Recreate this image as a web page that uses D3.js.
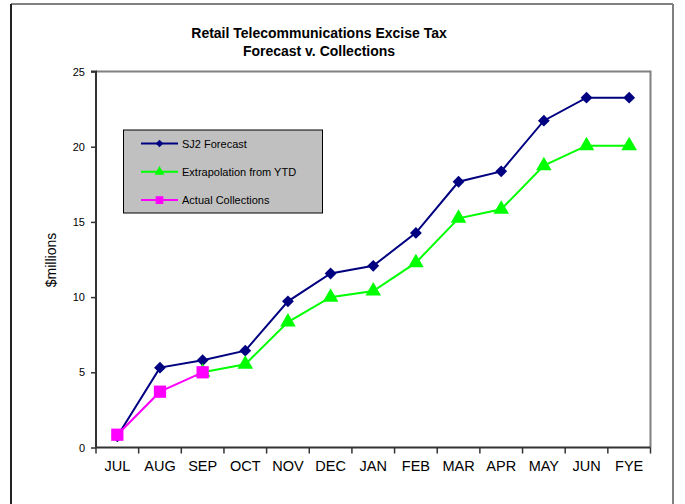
<!DOCTYPE html>
<html><head><meta charset="utf-8">
<script src="https://cdn.jsdelivr.net/npm/d3@7"></script>
<style>body{margin:0;background:#fff}svg{display:block;font-family:Arial,"Liberation Sans",sans-serif}</style>
</head><body><svg id="c" width="685" height="504"></svg>
<script>
const categories = ["JUL","AUG","SEP","OCT","NOV","DEC","JAN","FEB","MAR","APR","MAY","JUN","FYE"];
const forecast = [0.75,5.31,5.8,6.44,9.72,11.57,12.08,14.27,17.67,18.36,21.73,23.26,23.26];
const extrapolation = [null,null,5.0,5.53,8.34,9.99,10.4,12.29,15.24,15.84,18.74,20.07,20.07];
const actual = [0.85,3.71,5.0,null,null,null,null,null,null,null,null,null,null];
const yTicks = [0,5,10,15,20,25];
const titleLines = ["Retail Telecommunications Excise Tax","Forecast v. Collections"];
const legendNames = ["SJ2 Forecast","Extrapolation from YTD","Actual Collections"];

const svg = d3.select("#c");
// outer frame
svg.append("line").attr("x1",11).attr("y1",4).attr("x2",673).attr("y2",4).attr("stroke","#808080").attr("stroke-width",2);
svg.append("line").attr("x1",11).attr("y1",4).attr("x2",11).attr("y2",504).attr("stroke","#222").attr("stroke-width",2);
svg.append("line").attr("x1",673).attr("y1",4).attr("x2",673).attr("y2",504).attr("stroke","#808080").attr("stroke-width",2);

const L=96, R=650.5, T=71.5, B=447.5;
const x = d3.scaleBand().domain(categories).range([L,R]);
const y = d3.scaleLinear().domain([0,25]).range([B,T]);

// plot frame (top/right gray)
svg.append("path").attr("d",`M${L},${T}H${R}V${B}`).attr("fill","none").attr("stroke","#808080").attr("stroke-width",2);

// title
titleLines.forEach((t,i)=>svg.append("text").attr("x",319).attr("y",38+i*18).attr("text-anchor","middle")
  .attr("font-size",14).attr("font-weight","bold").text(t));

// y axis
const ya = svg.append("g").attr("transform",`translate(${L},0)`)
  .call(d3.axisLeft(y).tickValues(yTicks).tickSize(5).tickPadding(6).tickFormat(d3.format("d")));
ya.selectAll("text").attr("font-size",11).attr("fill","#000").style("font-family","Arial,'Liberation Sans',sans-serif");
ya.select(".domain").attr("stroke","#333").attr("stroke-width",2).attr("d",`M-5,${T}H0V${B}`);
ya.selectAll(".tick line").attr("stroke","#333").attr("stroke-width",1.5);

// x axis
const xa = svg.append("g").attr("transform",`translate(0,${B})`)
  .call(d3.axisBottom(x).tickSize(0).tickPadding(13));
xa.selectAll("text").attr("font-size",14.5).attr("fill","#000").style("font-family","Arial,'Liberation Sans',sans-serif");
xa.select(".domain").attr("stroke","#333").attr("stroke-width",2).attr("d",`M${L},0H${R}`);
xa.selectAll(".bt").data(d3.range(categories.length+1)).enter().append("line")
  .attr("x1",i=>L+i*x.step()).attr("x2",i=>L+i*x.step()).attr("y1",0).attr("y2",6)
  .attr("stroke","#333").attr("stroke-width",1.5);

// y label
svg.append("text").attr("transform","translate(56,260) rotate(-90)").attr("text-anchor","middle")
  .attr("font-size",14).text("$millions");

const cx = d => x(d)+x.bandwidth()/2;
const series = [
  {vals:forecast,color:"#000080",sym:d3.symbolSquare,size:70,rot:45},
  {vals:extrapolation,color:"#00ff00",sym:d3.symbolTriangle,size:105,rot:0},
  {vals:actual,color:"#ff00ff",sym:d3.symbolSquare,size:150,rot:0}
];
const line = d3.line().defined(d=>d.v!=null).x(d=>cx(d.c)).y(d=>y(d.v));
series.forEach(s=>{
  const data = categories.map((c,i)=>({c,v:s.vals[i]}));
  svg.append("path").datum(data).attr("d",line).attr("fill","none").attr("stroke",s.color).attr("stroke-width",2);
  svg.selectAll(null).data(data.filter(d=>d.v!=null)).enter().append("path")
    .attr("d",d3.symbol().type(s.sym).size(s.size))
    .attr("transform",d=>`translate(${cx(d.c)},${y(d.v)}) rotate(${s.rot})`).attr("fill",s.color);
});

// legend
const lg = svg.append("g");
lg.append("rect").attr("x",123.5).attr("y",130).attr("width",199).attr("height",83).attr("fill","#c0c0c0").attr("stroke","#000").attr("stroke-width",1);
series.forEach((s,i)=>{
  const yy = 143.5 + i*28.3;
  lg.append("line").attr("x1",141).attr("x2",178).attr("y1",yy).attr("y2",yy).attr("stroke",s.color).attr("stroke-width",2);
  lg.append("path").attr("d",d3.symbol().type(s.sym).size(s.size*0.4)).attr("transform",`translate(159.5,${yy}) rotate(${s.rot})`).attr("fill",s.color);
  lg.append("text").attr("x",182).attr("y",yy+4).attr("font-size",11).text(legendNames[i]);
});
</script></body></html>
